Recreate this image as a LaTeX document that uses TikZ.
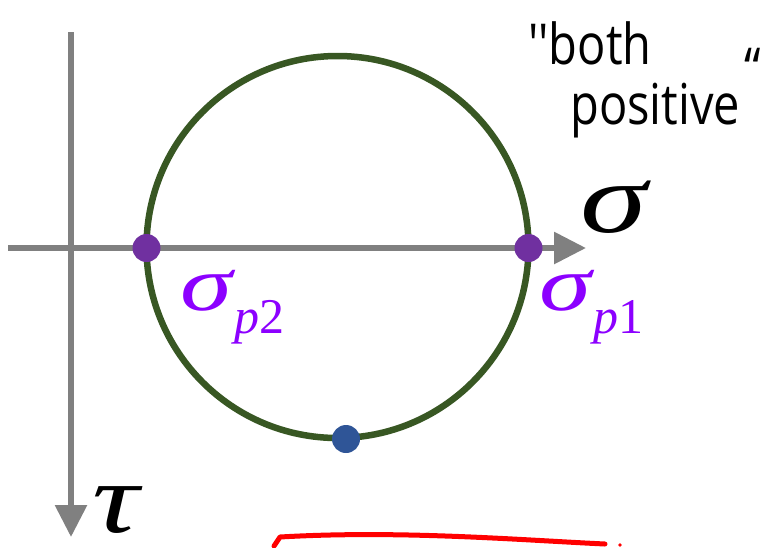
\documentclass[tikz,border=0pt]{standalone}
\usepackage{fontspec}
\setmainfont{Liberation Serif}
\newfontfamily\handfont{Open Sans}
\usetikzlibrary{arrows.meta}
\definecolor{axisgray}{RGB}{128,128,128}
\definecolor{circgreen}{RGB}{56,87,35}
\definecolor{dotpurple}{RGB}{112,48,160}
\definecolor{dotblue}{RGB}{47,85,151}
\definecolor{labpurple}{RGB}{140,0,255}
\tikzset{
  axis/.style={draw=axisgray, line width=6pt, -{Triangle[length=32pt,width=31pt]}},
  pdot/.style={circle, fill=dotpurple, inner sep=0pt, minimum size=28pt},
  bdot/.style={circle, fill=dotblue, inner sep=0pt, minimum size=28pt},
  biglab/.style={inner sep=0pt, font=\fontsize{100}{100}\selectfont\itshape},
  sublab/.style={inner sep=0pt, text=labpurple, font=\fontsize{78}{78}\selectfont\itshape},
  hand/.style={inner sep=0pt, font=\handfont\fontsize{47}{47}\selectfont, yscale=1.2},
}
\newcommand{\subpart}[2]{\raisebox{-0.3em}{\fontsize{50}{50}\selectfont\itshape #1\upshape #2}}
\begin{document}
\begin{tikzpicture}[x=1pt,y=-1pt]
\useasboundingbox (0,0) rectangle (784,547);
% axes
\coordinate (hstart) at (8,248);
\coordinate (hend) at (586,248);
\coordinate (vstart) at (71,32);
\coordinate (vend) at (71,537);
\draw[axis] (hstart) -- (hend);
\draw[axis] (vstart) -- (vend);
% circle
\coordinate (c) at (337.5,247);
\draw[circgreen, line width=6.5pt] (c) circle[radius=191];
% dots
\node[pdot] (p2) at (146.5,248) {};
\node[pdot] (p1) at (528.5,248) {};
\node[bdot] (b) at (346,439) {};
% labels
\node[biglab, anchor=base west, xscale=1.35] (sig) at (580,232) {σ};
\node[biglab, anchor=base west, xscale=1.3, text depth=0pt] (tau) at (92,532) {τ};
\node[sublab, anchor=base west] (s2) at (180,310) {\scalebox{1.35}[1]{σ}\hspace{2pt}\subpart{p}{2}};
\node[sublab, anchor=base west] (s1) at (539,310) {\scalebox{1.35}[1]{σ}\hspace{2pt}\subpart{p}{1}};
% handwriting
\node[hand, anchor=base west] (both) at (528,64) {''both};
\node[hand, anchor=base west] (pos) at (570,124) {positive};
\node[hand, anchor=base west] (q) at (744,88) {“};
% red line
\draw[red, line width=5pt, line cap=round, line join=round] (274,546) -- (280,537) .. controls (400,530) and (520,540) .. (605,544);
\fill[red] (620,545) circle[radius=1.8];
\end{tikzpicture}
\end{document}
